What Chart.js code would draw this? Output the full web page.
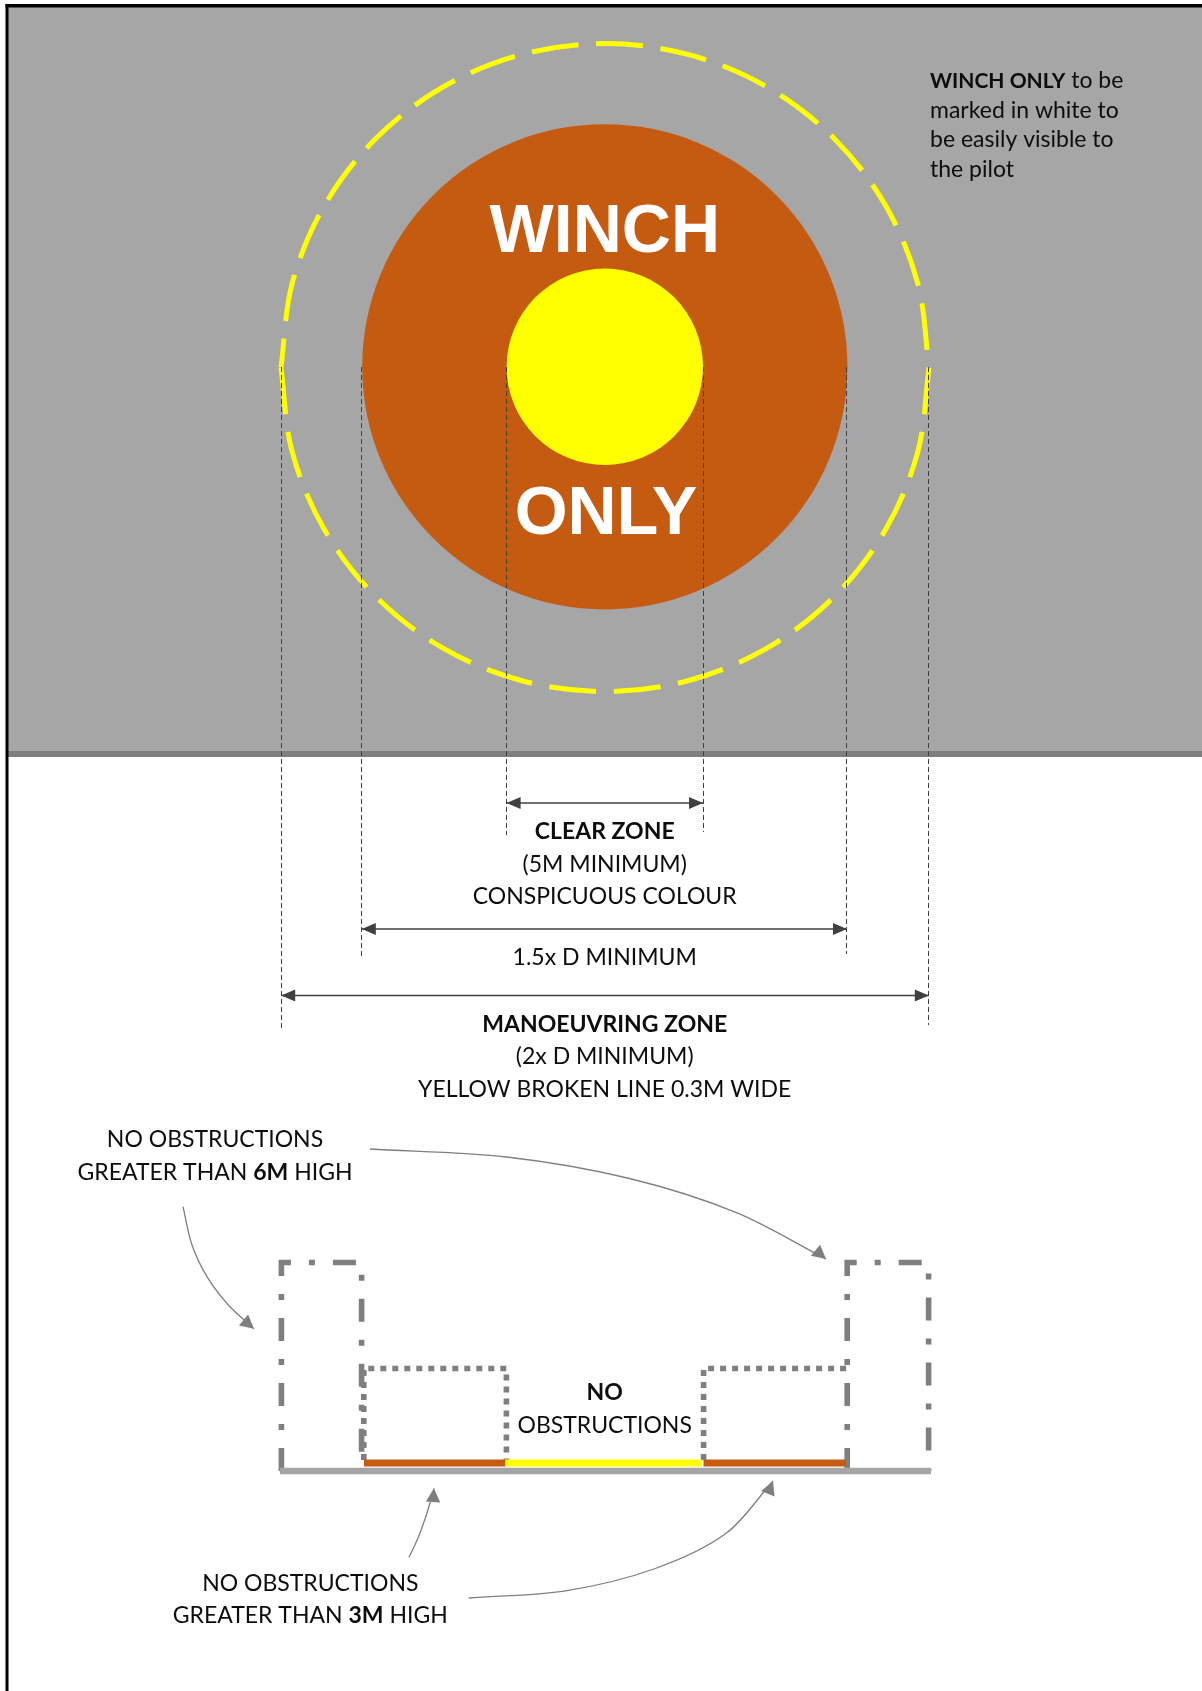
<!DOCTYPE html>
<html>
<head>
<meta charset="utf-8">
<title>Winch only marking</title>
<script src="https://cdn.jsdelivr.net/npm/chart.js@4/dist/chart.umd.min.js"></script>
<style>
  html, body { margin: 0; padding: 0; background: #fff; }
  canvas { display: block; }
</style>
</head>
<body>
<canvas id="winchChart" width="1202" height="1691"></canvas>
<script>
// Diagram values ([x, y] in sheet units)
const frameTop = [[5.5, 5.7], [1202, 5.7]];
const frameLeft = [[7, 4], [7, 1691]];
const deckArea = [[8, 7], [1202, 7]];
const deckBottom = 751;
const deckEdge = [[8, 754], [1202, 754]];

const discCentre = [[604.8, 366.8]];
const manoeuvringDiscRadius = 242.6;
const clearZoneRadius = 98.2;

// yellow broken line, lower and upper half, both starting at the right
const ringLower = [[929, 367.6], [917.9, 451.4], [885.6, 529.6], [834.1, 596.7], [767, 648.2], [688.8, 680.5], [605, 691.6],
  [521.1, 680.5], [443, 648.2], [375.9, 596.7], [324.4, 529.6], [292.1, 451.4], [281, 367.6]];
const ringUpper = [[929, 367.6], [917.9, 283.8], [885.6, 205.6], [834.1, 138.5], [767, 87], [688.8, 54.7], [605, 43.6],
  [521.1, 54.7], [443, 87], [375.9, 138.5], [324.4, 205.6], [292.1, 283.8], [281, 367.6]];

// dashed projection lines
const projectionX = [281.5, 361.5, 506.5, 703.5, 846.5, 928.5];
const projectionEndY = [1028, 958, 835, 832, 954, 1025];
const projectionStartY = 367;

// dimension arrows
const clearZoneArrow = [[506.6, 803], [703, 803]];
const discArrow = [[361.8, 929], [847, 929]];
const ringArrow = [[281.2, 995.6], [928.8, 995.6]];

// side elevation
const highLeft = [[281.4, 1471], [281.4, 1262.5], [361.6, 1262.5], [361.6, 1471]];
const highRight = [[847.2, 1471], [847.2, 1262.5], [928.6, 1262.5], [928.6, 1471]];
const lowLeft = [[363.8, 1460], [363.8, 1368.5], [506.4, 1368.5], [506.4, 1460]];
const lowRight = [[703.6, 1460], [703.6, 1368.5], [846.5, 1368.5]];
const groundLine = [[280, 1471], [931, 1471]];
const sectionOrangeLeft = [[364, 1463], [505.5, 1463]];
const sectionYellow = [[505.5, 1463], [702, 1463]];
const sectionOrangeRight = [[703.5, 1463], [846, 1463]];

// curved leader arrows, tip is the last point
const leaderTopRight = [[370, 1149], [506.5, 1157], [629.5, 1178.5], [737, 1212.8], [826, 1259]];
const leaderTopLeft = [[183, 1206.7], [192, 1245], [207.6, 1277.7], [228.8, 1305.5], [254, 1328.7]];
const leaderBottomLeft = [[409, 1557.3], [418, 1538], [425, 1519], [430, 1503], [434, 1488.3]];
const leaderBottomRight = [[468.7, 1598], [565.5, 1590.8], [654, 1569], [725.8, 1533.6], [773, 1481]];

// text, *...* is bold
const noteLines = ["*WINCH ONLY* to be", "marked in white to", "be easily visible to", "the pilot"];
const noteX = 930;
const noteY = [88.3, 117.7, 147, 176.7];

const centreLines = [
  "*CLEAR ZONE*", "(5M MINIMUM)", "CONSPICUOUS COLOUR", "1.5x D MINIMUM",
  "*MANOEUVRING ZONE*", "(2x D MINIMUM)", "YELLOW BROKEN LINE 0.3M WIDE", "*NO*", "OBSTRUCTIONS"];
const centreX = 604.7;
const centreY = [839.3, 871.7, 904, 965, 1031.7, 1064, 1096.7, 1400, 1433.3];

const highLabel = ["NO OBSTRUCTIONS", "GREATER THAN *6M* HIGH"];
const highLabelX = 215;
const highLabelY = [1147.3, 1180];
const lowLabel = ["NO OBSTRUCTIONS", "GREATER THAN *3M* HIGH"];
const lowLabelX = 310.3;
const lowLabelY = [1590.7, 1623.3];

const bigWords = ["WINCH", "ONLY"];
const bigWordX = [604.8, 606];
const bigWordY = [252, 534];

const GREY = "#a6a6a6";
const DARK_GREY = "#7f7f7f";
const ORANGE = "#c55a11";
const YELLOW = "#ffff00";
const LINE = "#404040";
const LABEL_FONT = "Lato";
const LABEL_SIZE = 23;
const NOTE_BOLD_SIZE = 21;

function pts(list) {
  return list.map(([x, y]) => ({ x, y }));
}

// one polyline
function line(list, color, width, extra) {
  return Object.assign({
    data: pts(list),
    showLine: true,
    borderColor: color,
    borderWidth: width,
    pointRadius: 0,
    tension: 0,
    clip: false,
  }, extra);
}

// disc whose radius goes through the x scale
function disc(radius, color) {
  return {
    data: pts(discCentre),
    showLine: false,
    backgroundColor: color,
    pointBorderWidth: 0,
    clip: false,
    pointRadius: (ctx) => {
      const sx = ctx.chart.scales.x;
      return sx.getPixelForValue(radius) - sx.getPixelForValue(0);
    },
  };
}

const dashDot = [23, 18, 6, 18];
const dotted = [6, 6];
const dimHead = { length: 14, half: 6, color: LINE };
// direction in degrees, the last stretch of a curve is too coarse for it
const leaderHead = (deg) => ({ length: 13.7, half: 7.2, color: DARK_GREY, deg });

// paint order, first one at the back
const layers = [
  line(deckArea, "rgba(0,0,0,0)", 0, { fill: { value: deckBottom }, backgroundColor: GREY }),
  line(deckEdge, DARK_GREY, 5.8),
  line(frameTop, "#000", 3.4),
  line(frameLeft, "#000", 3),
  disc(manoeuvringDiscRadius, ORANGE),
  disc(clearZoneRadius, YELLOW),
  line(ringLower, YELLOW, 5, { tension: 0.34, borderDash: [47, 17.7] }),
  line(ringUpper, YELLOW, 5, { tension: 0.34, borderDash: [47, 17.7], borderDashOffset: 47 }),
  ...projectionX.map((x, i) =>
    line([[x, projectionStartY], [x, projectionEndY[i]]], LINE, 1, { borderDash: [5, 3] })),
  line(clearZoneArrow, LINE, 1.5, { arrowHead: dimHead, arrowBoth: true }),
  line(discArrow, LINE, 1.5, { arrowHead: dimHead, arrowBoth: true }),
  line(ringArrow, LINE, 1.5, { arrowHead: dimHead, arrowBoth: true }),
  line(highLeft, DARK_GREY, 5.6, { borderDash: dashDot }),
  line(highRight, DARK_GREY, 5.6, { borderDash: dashDot }),
  line(lowLeft, DARK_GREY, 5.6, { borderDash: dotted }),
  line(lowRight, DARK_GREY, 5.6, { borderDash: dotted }),
  line(groundLine, GREY, 6.5),
  line(sectionOrangeLeft, ORANGE, 7),
  line(sectionYellow, YELLOW, 7),
  line(sectionOrangeRight, ORANGE, 7),
  line(leaderTopRight, DARK_GREY, 1.3, { tension: 0.33, arrowHead: leaderHead(40) }),
  line(leaderTopLeft, DARK_GREY, 1.3, { tension: 0.33, arrowHead: leaderHead(40) }),
  line(leaderBottomLeft, DARK_GREY, 1.3, { tension: 0.33, arrowHead: leaderHead(-86) }),
  line(leaderBottomRight, DARK_GREY, 1.3, { tension: 0.33, arrowHead: leaderHead(-68) }),
];

function drawHead(ctx, tip, from, head) {
  const a = head.deg !== undefined ? head.deg * Math.PI / 180 : Math.atan2(tip.y - from.y, tip.x - from.x);
  ctx.save();
  ctx.translate(tip.x, tip.y);
  ctx.rotate(a);
  ctx.fillStyle = head.color;
  ctx.beginPath();
  ctx.moveTo(0, 0);
  ctx.lineTo(-head.length, -head.half);
  ctx.lineTo(-head.length, head.half);
  ctx.closePath();
  ctx.fill();
  ctx.restore();
}

// arrow heads sit on the dataset's own end points
const arrowHeads = {
  id: "arrowHeads",
  afterDatasetsDraw(chart) {
    chart.data.datasets.forEach((ds, i) => {
      if (!ds.arrowHead) return;
      const p = chart.getDatasetMeta(i).data;
      drawHead(chart.ctx, p[p.length - 1], p[p.length - 2], ds.arrowHead);
      if (ds.arrowBoth) drawHead(chart.ctx, p[0], p[1], ds.arrowHead);
    });
  },
};

function drawRuns(ctx, text, x, y, size, centred, boldSize) {
  const parts = text.split("*").map((t, i) => ({ t, bold: i % 2 === 1 })).filter((r) => r.t);
  const fontOf = (r) => r.bold ? `bold ${boldSize || size}px ${LABEL_FONT}` : `${size}px ${LABEL_FONT}`;
  let total = 0;
  parts.forEach((r) => { ctx.font = fontOf(r); total += ctx.measureText(r.t).width; });
  let cx = centred ? x - total / 2 : x;
  parts.forEach((r) => {
    ctx.font = fontOf(r);
    ctx.fillText(r.t, cx, y);
    cx += ctx.measureText(r.t).width;
  });
}

const sheetText = {
  id: "sheetText",
  afterDatasetsDraw(chart) {
    const { ctx, scales } = chart;
    const px = (v) => scales.x.getPixelForValue(v);
    const py = (v) => scales.y.getPixelForValue(v);
    ctx.save();
    ctx.textAlign = "left";
    ctx.textBaseline = "alphabetic";
    ctx.fillStyle = "#0d0d0d";
    noteLines.forEach((t, i) => drawRuns(ctx, t, px(noteX), py(noteY[i]), LABEL_SIZE, false, NOTE_BOLD_SIZE));
    centreLines.forEach((t, i) => drawRuns(ctx, t, px(centreX), py(centreY[i]), LABEL_SIZE, true));
    highLabel.forEach((t, i) => drawRuns(ctx, t, px(highLabelX), py(highLabelY[i]), LABEL_SIZE, true));
    lowLabel.forEach((t, i) => drawRuns(ctx, t, px(lowLabelX), py(lowLabelY[i]), LABEL_SIZE, true));
    ctx.fillStyle = "#fff";
    ctx.textAlign = "center";
    ctx.font = 'bold 68px "Liberation Sans"';
    bigWords.forEach((t, i) => ctx.fillText(t, px(bigWordX[i]), py(bigWordY[i])));
    ctx.restore();
  },
};

const chart = new Chart(document.getElementById("winchChart"), {
  type: "scatter",
  data: { datasets: layers.slice().reverse() },
  options: {
    responsive: false,
    animation: false,
    events: [],
    layout: { padding: 0 },
    plugins: { legend: { display: false }, tooltip: { enabled: false } },
    scales: {
      x: { type: "linear", min: 0, max: 1202, display: false },
      y: { type: "linear", min: 0, max: 1691, reverse: true, display: false },
    },
  },
  plugins: [arrowHeads, sheetText],
});
</script>
</body>
</html>
